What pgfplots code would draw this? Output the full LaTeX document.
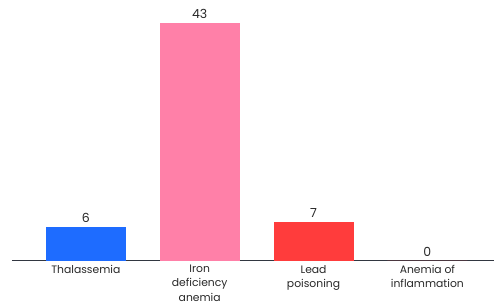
\documentclass[border=0pt]{standalone}
\usepackage{fontspec}
\setmainfont{Poppins}
\usepackage{pgfplots}
\pgfplotsset{compat=1.18}
\definecolor{cblue}{RGB}{30,108,255}
\definecolor{cpink}{RGB}{255,128,168}
\definecolor{cred}{RGB}{255,60,60}
\definecolor{caxis}{RGB}{50,55,65}
\definecolor{ctext}{RGB}{40,40,40}
\begin{document}
\begin{tikzpicture}
\begin{axis}[
  scale only axis,
  width=483pt, height=261pt,
  xmin=-0.649, xmax=3.588,
  ymin=0, ymax=47.15,
  hide y axis,
  axis x line*=bottom,
  axis line style={caxis, line width=1.3pt, -},
  xtick={0,1,2,3},
  xticklabels={Thalassemia, Iron\\deficiency\\anemia, Lead\\poisoning, Anemia of\\inflammation},
  xticklabel style={align=center, font=\fontsize{10.8}{14.2}\selectfont, text=ctext, yshift=-1pt},
  major tick length=0pt,
  ybar, bar width=80pt, bar shift=0pt,
  nodes near coords,
  every node near coord/.append style={font=\fontsize{12.5}{14}\selectfont, text=ctext, yshift=1pt},
  /pgf/number format/assume math mode=true,
  clip=false,
]
\addplot[draw=none, fill=cblue] coordinates {(0,6)};
\addplot[draw=none, fill=cpink] coordinates {(1,43)};
\addplot[draw=none, fill=cred] coordinates {(2,7)};
\addplot[draw=none, fill=cred] coordinates {(3,0)};
\end{axis}
\path ([xshift=-12pt,yshift=-45pt]current axis.south west) rectangle (current axis.north east);
\end{tikzpicture}
\end{document}
